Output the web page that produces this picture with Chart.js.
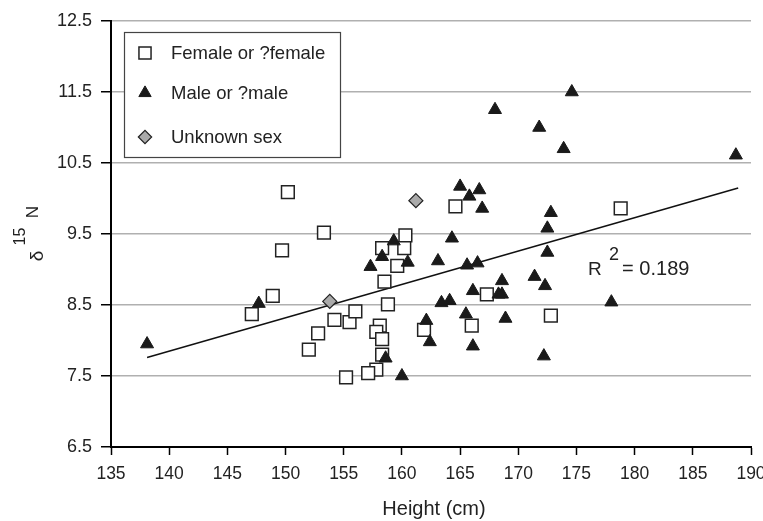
<!DOCTYPE html>
<html>
<head>
<meta charset="utf-8">
<script src="https://cdn.jsdelivr.net/npm/chart.js@4.4.1/dist/chart.umd.min.js"></script>
<style>
  body { margin: 0; background: #fff; }
  #wrap { width: 763px; height: 521px; }
</style>
</head>
<body>
<div id="wrap"><canvas id="scatter" width="763" height="521"></canvas></div>
<script>
// values
const femaleHeight = [150.2, 153.3, 149.7, 148.9, 147.1, 154.2, 155.5, 156.0, 152.8, 152.0, 155.2, 164.6, 160.3, 158.3, 160.2,
  159.6, 158.5, 167.3, 158.8, 161.9, 166.0, 158.1, 157.8, 158.3, 158.3, 157.8, 157.1, 178.8, 172.8];
const femaleN = [10.09, 9.52, 9.27, 8.63, 8.37, 8.29, 8.26, 8.41, 8.10, 7.87, 7.48, 9.89, 9.48, 9.30, 9.30,
  9.05, 8.83, 8.65, 8.51, 8.15, 8.21, 8.21, 8.12, 8.02, 7.80, 7.59, 7.54, 9.86, 8.35];

const maleHeight = [138.1, 147.7, 165.0, 166.65, 165.8, 166.9, 159.3, 164.3, 158.3, 160.5, 157.3, 163.1, 165.6, 166.5, 168.6,
  166.1, 168.3, 168.6, 163.4, 164.1, 165.5, 168.9, 162.1, 162.4, 166.1, 158.6, 160.0, 174.6, 168.0, 171.8,
  173.9, 188.7, 172.8, 172.5, 172.5, 171.4, 172.3, 178.0, 172.2];
const maleN = [7.95, 8.52, 10.17, 10.12, 10.03, 9.86, 9.40, 9.44, 9.18, 9.10, 9.04, 9.12, 9.06, 9.09, 8.84,
  8.70, 8.65, 8.65, 8.53, 8.56, 8.37, 8.31, 8.28, 7.98, 7.92, 7.75, 7.50, 11.50, 11.25, 11.00,
  10.70, 10.61, 9.80, 9.58, 9.24, 8.90, 8.77, 8.54, 7.78];

const unknownHeight = [153.8, 161.2];
const unknownN = [8.55, 9.97];

// trend line
const trendX = [138.1, 188.9];
const trendSlope = 0.047;
const trendIntercept = 1.27;
const r2Text = '= 0.189';

const xTicks = [135, 140, 145, 150, 155, 160, 165, 170, 175, 180, 185, 190];
const yTicks = [6.5, 7.5, 8.5, 9.5, 10.5, 11.5, 12.5];

const legendLabels = ['Female or ?female', 'Male or ?male', 'Unknown sex'];

function pts(xs, ys) {
  return xs.map((v, i) => ({ x: v, y: ys[i] }));
}

const FONT = '"Liberation Sans", Arial, Helvetica, sans-serif';

const female = {
  label: legendLabels[0], data: pts(femaleHeight, femaleN),
  pointStyle: 'rect', pointRadius: 9, pointBackgroundColor: '#fff',
  pointBorderColor: '#222', pointBorderWidth: 1.5, order: 3
};
const male = {
  label: legendLabels[1], data: pts(maleHeight, maleN),
  pointStyle: 'triangle', pointRadius: 7.5, pointBackgroundColor: '#1a1a1a',
  pointBorderColor: '#1a1a1a', pointBorderWidth: 1, order: 2
};
const unknown = {
  label: legendLabels[2], data: pts(unknownHeight, unknownN),
  pointStyle: 'rectRot', pointRadius: 7, pointBackgroundColor: '#aaa',
  pointBorderColor: '#222', pointBorderWidth: 1.2, order: 1
};
const trend = {
  label: 'trend', data: trendX.map(v => ({ x: v, y: trendIntercept + trendSlope * v })),
  showLine: true, pointRadius: 0, borderColor: '#111', borderWidth: 1.5, order: 5
};

// legend box, axis titles and R² text
const extras = {
  id: 'extras',
  afterDraw(chart) {
    const ctx = chart.ctx;
    const xs = chart.scales.x, ys = chart.scales.y;
    ctx.save();

    // legend
    ctx.fillStyle = '#fff';
    ctx.fillRect(124, 32, 216, 125);
    ctx.strokeStyle = '#444';
    ctx.lineWidth = 1.2;
    ctx.strokeRect(124.5, 32.5, 216, 125);
    const rows = [53, 93, 137];
    [female, male, unknown].forEach((ds, i) => {
      ctx.fillStyle = ds.pointBackgroundColor;
      ctx.strokeStyle = ds.pointBorderColor;
      ctx.lineWidth = ds.pointBorderWidth;
      Chart.helpers.drawPoint(ctx, { pointStyle: ds.pointStyle, radius: ds.pointRadius * 0.95, rotation: 0, borderWidth: ds.pointBorderWidth }, 145, rows[i]);
      ctx.fillStyle = '#222';
      ctx.font = '18.5px ' + FONT;
      ctx.textAlign = 'left';
      ctx.textBaseline = 'middle';
      ctx.fillText(ds.label, 171, rows[i] + 1);
    });

    // R squared
    const rx = xs.getPixelForValue(176.0);
    const ry = ys.getPixelForValue(8.92);
    ctx.fillStyle = '#222';
    ctx.textBaseline = 'alphabetic';
    ctx.textAlign = 'left';
    ctx.font = '19px ' + FONT;
    ctx.fillText('R', rx, ry);
    ctx.font = '18px ' + FONT;
    ctx.fillText('2', rx + 21, ry - 15);
    ctx.font = '20px ' + FONT;
    ctx.fillText(r2Text, rx + 34, ry);

    // x title
    ctx.font = '20px ' + FONT;
    ctx.textAlign = 'center';
    ctx.fillText('Height (cm)', 434, 515);

    // y title (rotated)
    ctx.rotate(-Math.PI / 2);
    ctx.font = '19px ' + FONT;
    ctx.fillText('\u03b4', -256, 43);
    ctx.font = '16px ' + FONT;
    ctx.fillText('15', -236.5, 25);
    ctx.font = '17px ' + FONT;
    ctx.fillText('N', -212, 38);
    ctx.restore();
  }
};

new Chart(document.getElementById('scatter'), {
  type: 'scatter',
  data: { datasets: [female, male, unknown, trend] },
  options: {
    responsive: false,
    animation: false,
    layout: { padding: { top: 21, right: 12, bottom: 0, left: 0 } },
    plugins: { legend: { display: false }, tooltip: { enabled: false } },
    scales: {
      x: {
        type: 'linear', min: 135, max: 190,
        afterBuildTicks: s => { s.ticks = xTicks.map(v => ({ value: v })); },
        afterFit: s => { s.height = 74; s.paddingLeft = 0; s.paddingRight = 0; },
        ticks: { font: { size: 17.5, family: FONT }, color: '#222', padding: 9, maxRotation: 0, autoSkip: false },
        grid: { drawOnChartArea: false, drawTicks: true, tickLength: 8, tickColor: '#000', tickWidth: 1.5 },
        border: { color: '#000', width: 2 }
      },
      y: {
        type: 'linear', min: 6.5, max: 12.5,
        afterBuildTicks: s => { s.ticks = yTicks.map(v => ({ value: v })); },
        afterFit: s => { s.width = 111; s.paddingTop = 0; s.paddingBottom = 0; },
        ticks: { font: { size: 18, family: FONT }, color: '#222', padding: 9, callback: v => v.toFixed(1) },
        grid: { color: '#b0b0b0', lineWidth: 1.5, tickLength: 10, tickColor: '#000', tickWidth: 1.5 },
        border: { color: '#000', width: 2 }
      }
    }
  },
  plugins: [extras]
});
</script>
</body>
</html>
